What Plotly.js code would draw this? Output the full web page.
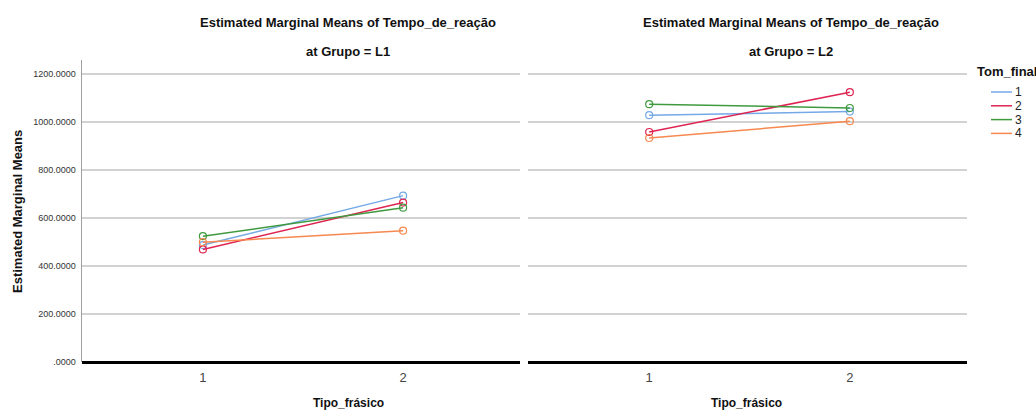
<!DOCTYPE html>
<html>
<head>
<meta charset="utf-8">
<script src="https://cdn.plot.ly/plotly-3.0.1.min.js"></script>
<style>html,body{margin:0;padding:0;background:#fff;}#chart{width:1036px;height:410px;}</style>
</head>
<body>
<div id="chart"></div>
<script>
const categories = [1, 2];
const groups = ["L1", "L2"];
const seriesNames = ["1", "2", "3", "4"];
const colors = ["#74a9e6", "#de2552", "#3f9a3f", "#f7884f"];
const L1_s1 = [487, 693];
const L1_s2 = [469, 664];
const L1_s3 = [524, 643];
const L1_s4 = [499, 547];
const L2_s1 = [1028, 1043];
const L2_s2 = [958, 1124];
const L2_s3 = [1074, 1058];
const L2_s4 = [933, 1003];
const yTickVals = [0, 200, 400, 600, 800, 1000, 1200];
const yTickText = [".0000", "200.0000", "400.0000", "600.0000", "800.0000", "1000.0000", "1200.0000"];

const W = 1036, H = 410;
const FONT = "Liberation Sans, Arial, sans-serif";
const panelData = [[L1_s1, L1_s2, L1_s3, L1_s4], [L2_s1, L2_s2, L2_s3, L2_s4]];

const traces = [];
panelData.forEach((series, p) => {
  series.forEach((vals, i) => {
    traces.push({
      x: categories, y: vals, type: "scatter", mode: "lines+markers",
      name: seriesNames[i],
      xaxis: p === 0 ? "x" : "x2", yaxis: p === 0 ? "y" : "y2",
      line: {color: colors[i], width: 1.5},
      marker: {symbol: "circle-open", size: 7, color: colors[i], line: {width: 1.2}},
      showlegend: false, hoverinfo: "skip"
    });
  });
});

const yaxisBase = {
  range: [0, 1258], tickvals: yTickVals, ticktext: yTickText,
  showgrid: true, gridcolor: "#d2d2d2", gridwidth: 1.2,
  zeroline: true, zerolinecolor: "#000", zerolinewidth: 3,
  tickfont: {family: FONT, size: 9, color: "#333"}, ticks: "", fixedrange: true,
  ticklabelstandoff: 3
};
const xaxisBase = {
  range: [0.396, 2.584], tickvals: categories, ticktext: categories.map(String),
  showgrid: false, zeroline: false, showline: false, ticks: "",
  tickfont: {family: FONT, size: 13, color: "#444"}, fixedrange: true,
  ticklabelstandoff: 6
};
const yDom = [(H - 362) / H, (H - 60) / H];

// manual legend (compact SPSS-style)
const legendShapes = [];
const legendAnn = [{
  text: "<b>Tom_final</b>", x: 975 / W, y: 1 - 72 / H, xanchor: "left",
  font: {family: FONT, size: 13, color: "#111"}
}];
seriesNames.forEach((n, i) => {
  const yy = 1 - (92 + i * 13.8) / H;
  legendShapes.push({
    type: "line", xref: "paper", yref: "paper",
    x0: 991 / W, x1: 1012 / W, y0: yy, y1: yy,
    line: {color: colors[i], width: 1.5}
  });
  legendAnn.push({
    text: n, x: 1013 / W, y: yy, xanchor: "left",
    font: {family: FONT, size: 12, color: "#222"}
  });
});

const layout = {
  width: W, height: H,
  margin: {l: 0, r: 0, t: 0, b: 0},
  paper_bgcolor: "#fff", plot_bgcolor: "#fff",
  font: {family: FONT},
  showlegend: false,
  xaxis: Object.assign({}, xaxisBase, {domain: [82 / W, 520 / W], anchor: "y"}),
  xaxis2: Object.assign({}, xaxisBase, {domain: [528 / W, 967 / W], anchor: "y2"}),
  yaxis: Object.assign({}, yaxisBase, {domain: yDom, anchor: "x", showline: true, linecolor: "#a0a0a0", linewidth: 1.5}),
  yaxis2: Object.assign({}, yaxisBase, {domain: yDom, anchor: "x2", showline: false, showticklabels: false}),
  shapes: legendShapes,
  annotations: [
    {text: "<b>Estimated Marginal Means of Tempo_de_reação</b>", x: 348 / W, y: 1 - 22 / H, font: {family: FONT, size: 13, color: "#111"}},
    {text: "<b>at Grupo = " + groups[0] + "</b>", x: 348 / W, y: 1 - 51 / H, font: {family: FONT, size: 13, color: "#111"}},
    {text: "<b>Estimated Marginal Means of Tempo_de_reação</b>", x: 791 / W, y: 1 - 22 / H, font: {family: FONT, size: 13, color: "#111"}},
    {text: "<b>at Grupo = " + groups[1] + "</b>", x: 791 / W, y: 1 - 51 / H, font: {family: FONT, size: 13, color: "#111"}},
    {text: "<b>Tipo_frásico</b>", x: 348 / W, y: 1 - 403 / H},
    {text: "<b>Tipo_frásico</b>", x: 746 / W, y: 1 - 403 / H},
    {text: "<b>Estimated Marginal Means</b>", x: 17 / W, y: 1 - 212 / H, textangle: -90, font: {family: FONT, size: 13, color: "#111"}}
  ].concat(legendAnn).map(a => Object.assign({
    xref: "paper", yref: "paper", showarrow: false, xanchor: "center", yanchor: "middle",
    font: {family: FONT, size: 12, color: "#111"}
  }, a))
};

Plotly.newPlot("chart", traces, layout, {displayModeBar: false, staticPlot: true});
</script>
</body>
</html>
